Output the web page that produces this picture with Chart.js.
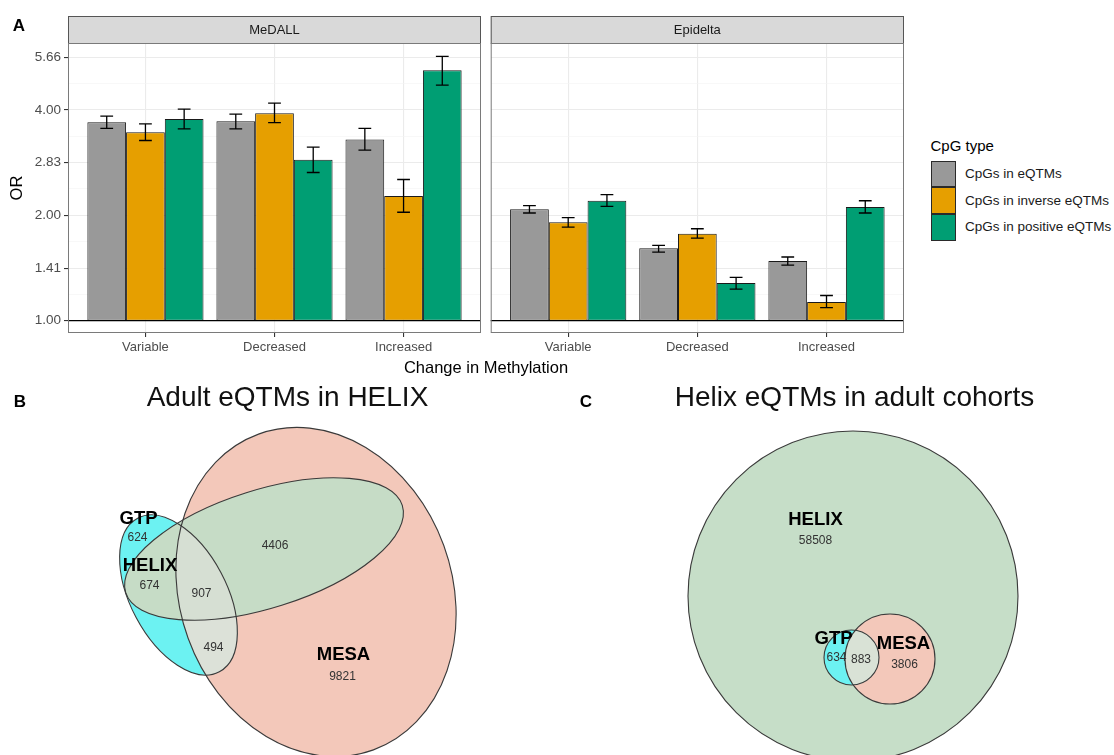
<!DOCTYPE html>
<html>
<head>
<meta charset="utf-8">
<script src="https://cdn.jsdelivr.net/npm/chart.js@4.4.1/dist/chart.umd.min.js"></script>
<style>
  html, body { margin: 0; padding: 0; background: #ffffff; }
  body { width: 1114px; height: 755px; position: relative; overflow: hidden;
         font-family: "Liberation Sans", Arial, Helvetica, sans-serif; }
  canvas { position: absolute; }
  .txt { position: absolute; white-space: nowrap; transform: translate(-50%, -50%); line-height: 1; }
  .tag { font-weight: bold; font-size: 17px; color: #000; }
  .vtitle { font-size: 28px; color: #111; }
  .key { position: absolute; box-sizing: border-box; border: 1px solid #2a2a2a; }
  .keytxt { position: absolute; white-space: nowrap; font-size: 13.5px; color: #1a1a1a; transform: translateY(-50%); line-height: 1; }
</style>
</head>
<body>
<canvas id="medall" width="484" height="360" style="left:0;top:0"></canvas>
<canvas id="epidelta" width="424" height="360" style="left:484px;top:0"></canvas>
<canvas id="vennB" width="575" height="375" style="left:0;top:380px"></canvas>
<canvas id="vennC" width="539" height="375" style="left:575px;top:380px"></canvas>

<div class="txt tag" style="left:19px;top:25px">A</div>
<div class="txt" style="left:486px;top:367px;font-size:16.5px;color:#000">Change in Methylation</div>

<div id="legend"></div>

<div class="txt tag" style="left:20px;top:401px">B</div>
<div class="txt vtitle" style="left:287.5px;top:397px">Adult eQTMs in HELIX</div>
<div class="txt tag" style="left:586px;top:401px">C</div>
<div class="txt vtitle" style="left:854.5px;top:397px">Helix eQTMs in adult cohorts</div>

<script>
// ---------------- Panel A: enrichment odds ratios ----------------
const changeCategories = ['Variable', 'Decreased', 'Increased'];
const cpgTypes = ['CpGs in eQTMs', 'CpGs in inverse eQTMs', 'CpGs in positive eQTMs'];
const cpgColors = ['#999999', '#E69F00', '#009E73'];
const cohorts = ['MeDALL', 'Epidelta'];

// log2-spaced axis breaks (labelled) and the minor breaks between them
const orTicks = [1.00, 1.41, 2.00, 2.83, 4.00, 5.66];
const orMinorTicks = [1.19, 1.68, 2.38, 3.36, 4.76];

// MeDALL: odds ratio and 95% CI per change category
const medallEqtmOR = [3.69, 3.71, 3.29];
const medallEqtmCI = [[3.54, 3.84], [3.53, 3.89], [3.07, 3.54]];
const medallInverseOR = [3.45, 3.91, 2.27];
const medallInverseCI = [[3.27, 3.65], [3.68, 4.18], [2.04, 2.53]];
const medallPositiveOR = [3.77, 2.88, 5.19];
const medallPositiveCI = [[3.53, 4.02], [2.65, 3.13], [4.71, 5.69]];

// Epidelta: odds ratio and 95% CI per change category
const epideltaEqtmOR = [2.08, 1.61, 1.48];
const epideltaEqtmCI = [[2.03, 2.13], [1.57, 1.64], [1.44, 1.52]];
const epideltaInverseOR = [1.91, 1.77, 1.13];
const epideltaInverseCI = [[1.85, 1.97], [1.72, 1.83], [1.09, 1.18]];
const epideltaPositiveOR = [2.20, 1.28, 2.11];
const epideltaPositiveCI = [[2.12, 2.29], [1.23, 1.33], [2.03, 2.20]];

// ---------------- Panel B: adult eQTMs found in HELIX ----------------
const vennBSetNames = ['MESA', 'GTP', 'HELIX'];
const vennBRegionCounts = [624, 674, 907, 494, 4406, 9821]; // GTP, GTP&HELIX, all, GTP&MESA, HELIX&MESA, MESA

// ---------------- Panel C: HELIX eQTMs in adult cohorts ----------------
const vennCSetNames = ['HELIX', 'MESA', 'GTP'];
const vennCRegionCounts = [58508, 634, 883, 3806]; // HELIX, GTP, GTP&MESA, MESA

const FONT = '"Liberation Sans", Arial, Helvetica, sans-serif';
Chart.defaults.font.family = FONT;
Chart.defaults.animation = false;

// ---- facet strip, panel frame and reference line at OR = 1 ----
const facetPlugin = {
  id: 'facet',
  afterDatasetsDraw(chart, args, opts) {
    const { ctx, chartArea: a } = chart;
    const y1 = chart.scales.y.getPixelForValue(1);
    ctx.save();
    ctx.strokeStyle = '#000';
    ctx.lineWidth = 1.3;
    ctx.beginPath();
    ctx.moveTo(a.left, y1);
    ctx.lineTo(a.right, y1);
    ctx.stroke();
    ctx.restore();
  },
  afterDraw(chart, args, opts) {
    const { ctx, chartArea: a } = chart;
    ctx.save();
    // strip
    ctx.fillStyle = '#D9D9D9';
    ctx.fillRect(a.left, a.top - 27, a.right - a.left, 27);
    ctx.strokeStyle = '#555';
    ctx.lineWidth = 1;
    ctx.strokeRect(a.left + 0.5, a.top - 27 + 0.5, a.right - a.left - 1, 27);
    ctx.fillStyle = '#1A1A1A';
    ctx.font = '13px ' + FONT;
    ctx.textAlign = 'center';
    ctx.textBaseline = 'middle';
    ctx.fillText(opts.title, (a.left + a.right) / 2, a.top - 13);
    // panel border
    ctx.strokeStyle = '#7a7a7a';
    ctx.strokeRect(a.left + 0.5, a.top + 0.5, a.right - a.left - 1, a.bottom - a.top - 1);
    ctx.restore();
  }
};

// ---- confidence interval whiskers ----
const errorBarPlugin = {
  id: 'errorBars',
  afterDatasetsDraw(chart) {
    const ctx = chart.ctx;
    const ys = chart.scales.y;
    ctx.save();
    ctx.strokeStyle = '#000';
    ctx.lineWidth = 1.3;
    chart.data.datasets.forEach((ds, di) => {
      chart.getDatasetMeta(di).data.forEach((bar, i) => {
        const [lo, hi] = ds.ci[i];
        const yl = ys.getPixelForValue(lo), yh = ys.getPixelForValue(hi);
        const hw = bar.width * 0.165;
        ctx.beginPath();
        ctx.moveTo(bar.x, yl); ctx.lineTo(bar.x, yh);
        ctx.moveTo(bar.x - hw, yl); ctx.lineTo(bar.x + hw, yl);
        ctx.moveTo(bar.x - hw, yh); ctx.lineTo(bar.x + hw, yh);
        ctx.stroke();
      });
    });
    ctx.restore();
  }
};

const isMajor = v => orTicks.some(t => Math.abs(t - v) < 1e-6);

function facetChart(id, cohort, ors, cis, withAxis) {
  return new Chart(document.getElementById(id), {
    type: 'bar',
    data: {
      datasets: cpgTypes.map((t, k) => ({
        label: t,
        data: ors[k].map((v, i) => ({ x: i + 1, y: [1, v] })),
        ci: cis[k],
        backgroundColor: cpgColors[k],
        borderColor: '#1a1a1a',
        borderWidth: 1,
        borderSkipped: false,
        categoryPercentage: 0.9,
        barPercentage: 1
      }))
    },
    options: {
      responsive: false,
      animation: false,
      events: [],
      layout: { padding: { top: 43, right: withAxis ? 3 : 4, left: 0, bottom: 0 } },
      plugins: { legend: { display: false }, tooltip: { enabled: false }, facet: { title: cohort } },
      scales: {
        x: {
          type: 'linear', min: 0.4, max: 3.6, offset: false,
          afterBuildTicks: s => { s.ticks = changeCategories.map((c, i) => ({ value: i + 1 })); },
          afterFit: s => { s.height = 27; },
          ticks: { callback: v => changeCategories[v - 1], color: '#4D4D4D', font: { size: 13 },
                   padding: 3, autoSkip: false, maxRotation: 0 },
          grid: { offset: false, color: '#EBEBEB', lineWidth: 1.1, tickColor: '#333', tickLength: 4 },
          border: { display: false }
        },
        y: {
          type: 'logarithmic', min: 0.922, max: 6.21, bounds: 'data',
          afterBuildTicks: s => {
            s.ticks = orTicks.concat(orMinorTicks).sort((a, b) => a - b).map(v => ({ value: v }));
          },
          afterFit: s => { s.width = withAxis ? 68 : 6.7; },
          ticks: {
            display: withAxis, autoSkip: false, color: '#4D4D4D', font: { size: 13.5 }, padding: 3,
            callback: v => isMajor(v) ? v.toFixed(2) : ''
          },
          grid: {
            drawTicks: withAxis, tickLength: 4,
            color: c => isMajor(c.tick.value) ? '#EBEBEB' : '#F4F4F4',
            lineWidth: c => isMajor(c.tick.value) ? 1.1 : 0.6,
            tickColor: c => isMajor(c.tick.value) ? '#333' : 'rgba(0,0,0,0)'
          },
          border: { display: false },
          title: { display: withAxis, text: 'OR', color: '#000', font: { size: 16.5 }, padding: { top: 8, bottom: 0 } }
        }
      }
    },
    plugins: [facetPlugin, errorBarPlugin]
  });
}

facetChart('medall', cohorts[0],
  [medallEqtmOR, medallInverseOR, medallPositiveOR],
  [medallEqtmCI, medallInverseCI, medallPositiveCI], true);
facetChart('epidelta', cohorts[1],
  [epideltaEqtmOR, epideltaInverseOR, epideltaPositiveOR],
  [epideltaEqtmCI, epideltaInverseCI, epideltaPositiveCI], false);

// ---- legend ----
(function buildLegend() {
  const lg = document.getElementById('legend');
  const title = document.createElement('div');
  title.className = 'keytxt';
  title.style.cssText = 'left:930.5px;top:145px;font-size:15px;color:#000';
  title.textContent = 'CpG type';
  lg.appendChild(title);
  cpgTypes.forEach((t, k) => {
    const top = 160.5 + k * 26.7;
    const box = document.createElement('div');
    box.className = 'key';
    box.style.cssText = `left:930.5px;top:${top}px;width:25.5px;height:26.7px;background:${cpgColors[k]}`;
    lg.appendChild(box);
    const lab = document.createElement('div');
    lab.className = 'keytxt';
    lab.style.cssText = `left:965px;top:${top + 13.3}px`;
    lab.textContent = t;
    lg.appendChild(lab);
  });
})();

// ---------------- Venn / Euler diagrams ----------------
const vennPlugin = {
  id: 'venn',
  beforeDatasetsDraw(chart, args, opts) {
    const ctx = chart.ctx;
    const xs = chart.scales.x, ys = chart.scales.y;
    const sets = chart.data.datasets;
    const path = k => {
      const ds = sets[k], p = ds.data[0];
      const cx = xs.getPixelForValue(p.x), cy = ys.getPixelForValue(p.y);
      const rx = Math.abs(xs.getPixelForValue(p.x + ds.rx) - cx);
      const ry = Math.abs(ys.getPixelForValue(p.y + ds.ry) - cy);
      ctx.beginPath();
      ctx.ellipse(cx, cy, rx, ry, ds.rot * Math.PI / 180, 0, 2 * Math.PI);
    };
    ctx.save();
    sets.forEach((ds, k) => { path(k); ctx.fillStyle = ds.fillColor; ctx.fill(); });
    (opts.overlaps || []).forEach(o => {
      ctx.save();
      o.sets.forEach(k => { path(k); ctx.clip(); });
      ctx.fillStyle = o.color;
      ctx.fillRect(0, 0, chart.width, chart.height);
      ctx.restore();
    });
    ctx.strokeStyle = '#3a3a3a';
    ctx.lineWidth = 1.1;
    sets.forEach((ds, k) => { path(k); ctx.stroke(); });
    ctx.restore();
  },
  afterDatasetsDraw(chart, args, opts) {
    const ctx = chart.ctx;
    const xs = chart.scales.x, ys = chart.scales.y;
    ctx.save();
    ctx.textAlign = 'center';
    ctx.textBaseline = 'middle';
    (opts.labels || []).forEach(l => {
      ctx.font = l.bold ? 'bold 18.5px ' + FONT : '12px ' + FONT;
      ctx.fillStyle = l.bold ? '#000' : '#333';
      ctx.fillText(l.text, xs.getPixelForValue(l.x), ys.getPixelForValue(l.y));
    });
    ctx.restore();
  }
};

function vennChart(id, xRange, sets, overlaps, labels) {
  return new Chart(document.getElementById(id), {
    type: 'scatter',
    data: {
      datasets: sets.map(s => ({
        label: s.name, data: [{ x: s.cx, y: s.cy }], rx: s.rx, ry: s.ry, rot: s.rot,
        fillColor: s.color, pointRadius: 0
      }))
    },
    options: {
      responsive: false, animation: false, events: [],
      layout: { padding: 0 },
      plugins: { legend: { display: false }, tooltip: { enabled: false }, venn: { overlaps, labels } },
      scales: {
        x: { type: 'linear', display: false, min: xRange[0], max: xRange[1] },
        y: { type: 'linear', display: false, min: 380, max: 755, reverse: true }
      }
    },
    plugins: [vennPlugin]
  });
}

// Panel B shapes (ellipses fitted to the set sizes) and label anchors
const vennBShapes = [
  { name: vennBSetNames[0], cx: 316, cy: 592, rx: 136, ry: 168, rot: -20, color: '#F3C8BA' },
  { name: vennBSetNames[1], cx: 178.5, cy: 595, rx: 87, ry: 48, rot: 62, color: '#6CF2F2' },
  { name: vennBSetNames[2], cx: 264, cy: 549, rx: 145, ry: 59, rot: -17.5, color: '#C6DCC6' }
];
const vennBLabels = [
  { text: 'GTP', x: 138.5, y: 518.5, bold: true },
  { text: String(vennBRegionCounts[0]), x: 137.5, y: 537.5 },
  { text: 'HELIX', x: 150, y: 566, bold: true },
  { text: String(vennBRegionCounts[1]), x: 149.5, y: 586 },
  { text: String(vennBRegionCounts[2]), x: 201.5, y: 593.5 },
  { text: String(vennBRegionCounts[3]), x: 213.5, y: 648 },
  { text: String(vennBRegionCounts[4]), x: 275, y: 546 },
  { text: 'MESA', x: 343.5, y: 655, bold: true },
  { text: String(vennBRegionCounts[5]), x: 342.5, y: 677 }
];
vennChart('vennB', [0, 575], vennBShapes,
  [{ sets: [0, 1], color: '#DCE1D8' }, { sets: [0, 1, 2], color: '#D6DFD3' }],
  vennBLabels);

// Panel C shapes and label anchors
const vennCShapes = [
  { name: vennCSetNames[0], cx: 853, cy: 596, rx: 165, ry: 165, rot: 0, color: '#C6DEC8' },
  { name: vennCSetNames[1], cx: 890, cy: 659, rx: 45, ry: 45, rot: 0, color: '#F3C8BA' },
  { name: vennCSetNames[2], cx: 851.5, cy: 657.5, rx: 27.5, ry: 27.5, rot: 0, color: '#6CF2F2' }
];
const vennCLabels = [
  { text: 'HELIX', x: 815.5, y: 520, bold: true },
  { text: String(vennCRegionCounts[0]), x: 815.5, y: 541 },
  { text: 'GTP', x: 833.5, y: 638.5, bold: true },
  { text: String(vennCRegionCounts[1]), x: 836.5, y: 658 },
  { text: String(vennCRegionCounts[2]), x: 861, y: 659.5 },
  { text: 'MESA', x: 903.5, y: 644, bold: true },
  { text: String(vennCRegionCounts[3]), x: 904.5, y: 664.5 }
];
vennChart('vennC', [575, 1114], vennCShapes,
  [{ sets: [1, 2], color: '#D9E2D6' }],
  vennCLabels);
</script>
</body>
</html>
